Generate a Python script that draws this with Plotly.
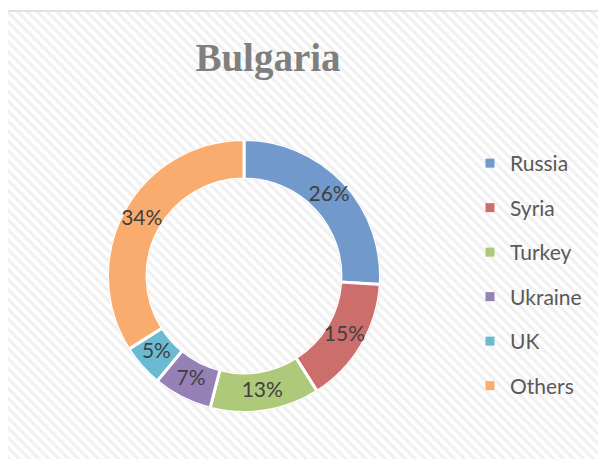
import plotly.graph_objects as go

categories = ["Russia", "Syria", "Turkey", "Ukraine", "UK", "Others"]
values = [26, 15, 13, 7, 5, 34]
colors = ["#7199CC", "#CC6E6C", "#AFC97B", "#9581B5", "#6ABBD1", "#F9AC6E"]
title_text = "Bulgaria"

W, H = 606, 459
OFF = 8  # page body margin shifts the figure by 8px


def px(x):
    return (x - OFF) / W


def py(y):
    return 1 - (y - OFF) / H


total = sum(values)
widths = [v / total * 360 for v in values]
mids = []
acc = 0
for w in widths:
    mids.append(acc + w / 2)
    acc += w
labels = [f"{round(v / total * 100)}%" for v in values]

fig = go.Figure()

# hatched chart-area background
fig.add_trace(go.Bar(
    x=[0], y=[1], width=[1], showlegend=False, hoverinfo="skip",
    marker=dict(color="white", line=dict(width=0),
                pattern=dict(shape="\\", fgcolor="#E2E2E2", bgcolor="white",
                             size=7, solidity=0.45)),
))

# legend entries
for c, col in zip(categories, colors):
    fig.add_trace(go.Scatter(
        x=[None], y=[None], mode="markers", name=c, legendgroup=c,
        marker=dict(symbol="square", size=9, color=col),
    ))

# doughnut ring
fig.add_trace(go.Barpolar(
    r=[1] * len(values), base=[0] * len(values), theta=mids, width=widths,
    marker=dict(color=colors, line=dict(color="white", width=3)),
    showlegend=False, hoverinfo="skip",
))
# data labels
fig.add_trace(go.Scatterpolar(
    r=[0.5] * len(values), theta=mids, mode="text", text=labels,
    textfont=dict(family="Lato", size=21, color="#404040"),
    showlegend=False, hoverinfo="skip",
))

cx, cy, r = 244, 276, 136.5
fig.update_layout(
    width=W, height=H,
    margin=dict(l=0, r=0, t=0, b=0),
    paper_bgcolor="white", plot_bgcolor="white",
    bargap=0,
    xaxis=dict(domain=[px(8), 1], range=[-0.5, 0.5], visible=False, fixedrange=True),
    yaxis=dict(domain=[0, py(12)], range=[0, 1], visible=False, fixedrange=True),
    polar=dict(
        domain=dict(x=[px(cx - r), px(cx + r)], y=[py(cy + r), py(cy - r)]),
        hole=0.71, bgcolor="rgba(0,0,0,0)", bargap=0,
        radialaxis=dict(range=[0, 1], visible=False),
        angularaxis=dict(direction="clockwise", rotation=90, visible=False),
    ),
    title=dict(text="<b>" + title_text + "</b>", x=px(268), xanchor="center",
               y=py(57), yanchor="middle",
               font=dict(family="Liberation Serif", size=39, color="#7F7F7F")),
    legend=dict(x=px(470), y=py(143), xanchor="left", yanchor="top",
                bgcolor="rgba(0,0,0,0)", tracegroupgap=14.2,
                font=dict(family="Lato", size=21, color="#595959"),
                itemwidth=30),
    shapes=[dict(type="rect", xref="paper", yref="paper",
                 x0=px(7), x1=1.02, y0=-0.02, y1=py(11),
                 line=dict(color="#D9D9D9", width=1.5))],
)

fig.write_html("out.html")
